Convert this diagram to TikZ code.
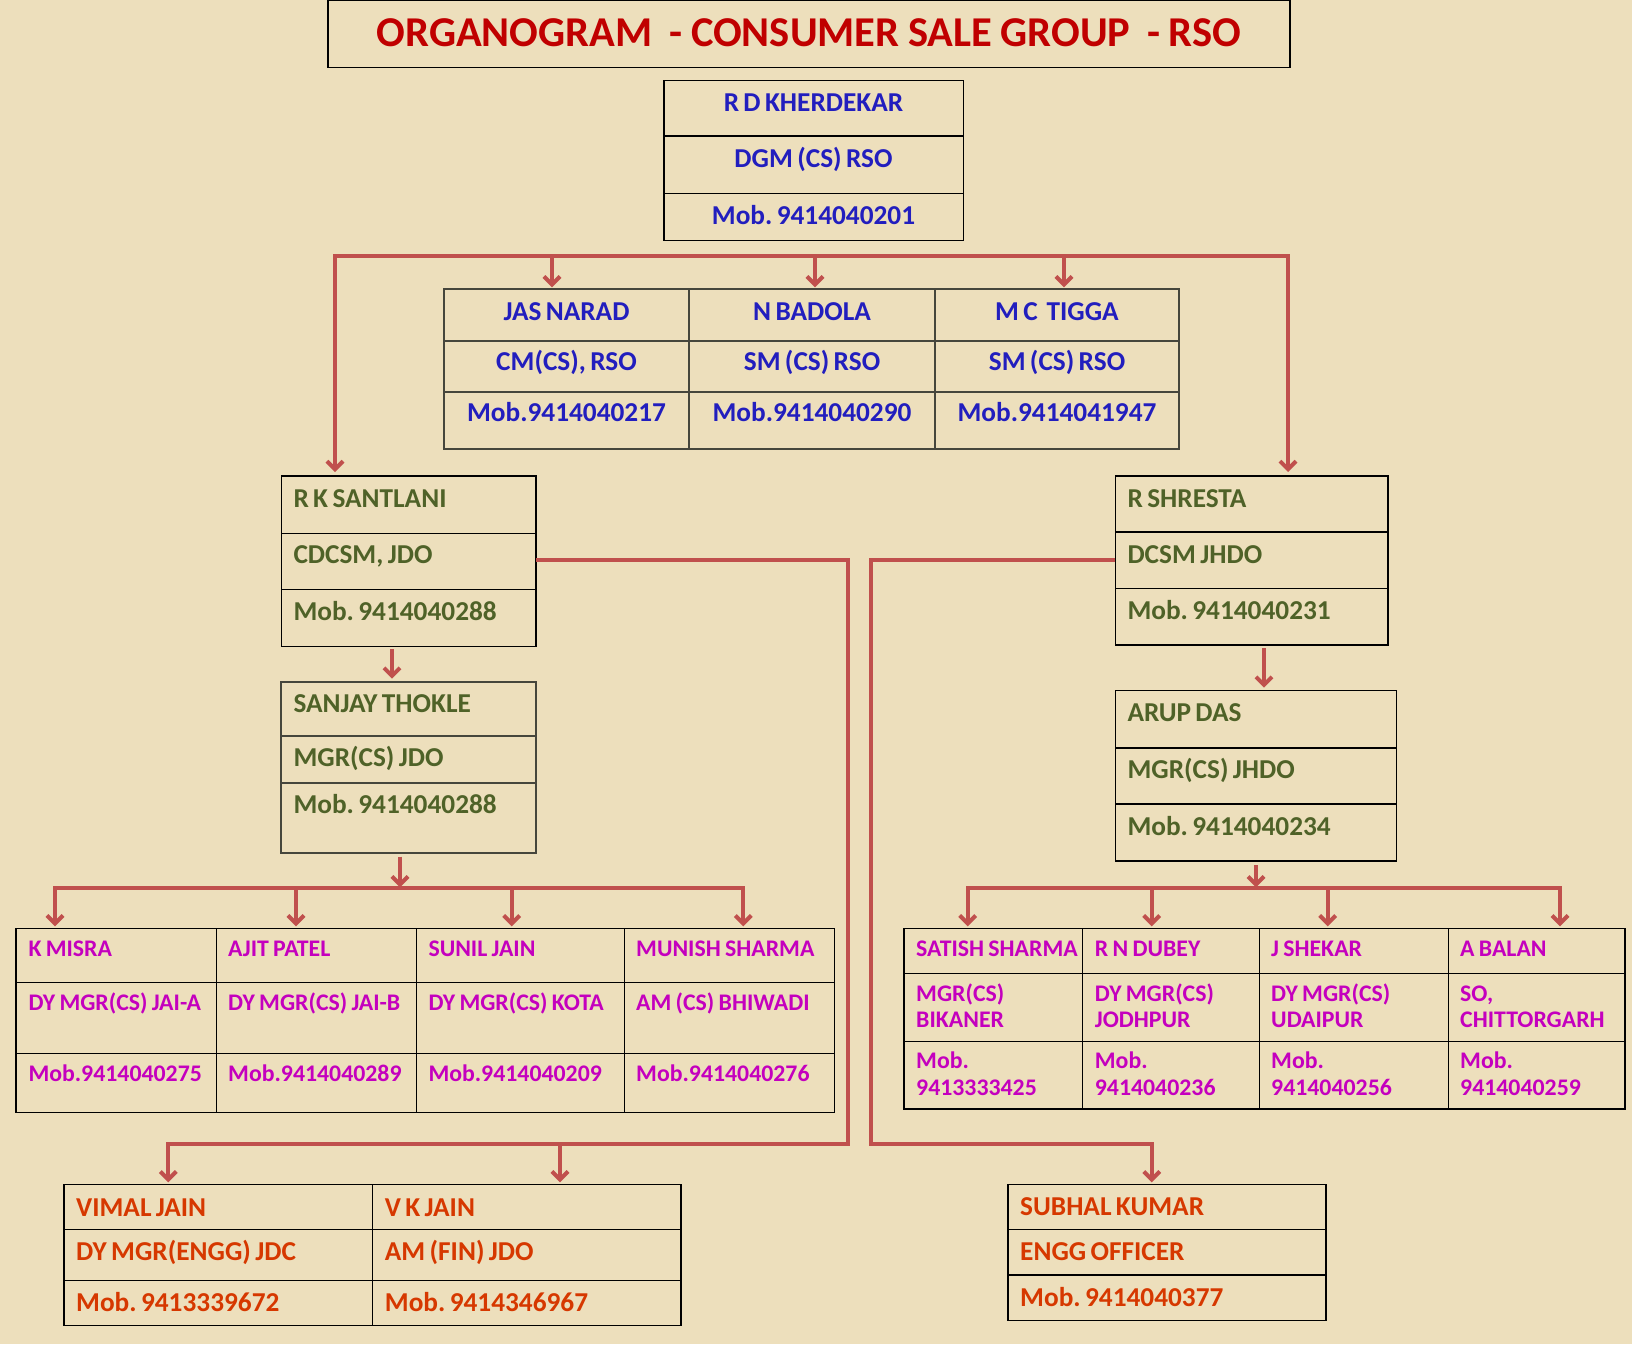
\documentclass[tikz,border=0pt]{standalone}
\usepackage{fontspec}
\setmainfont{Carlito}
\usetikzlibrary{arrows.meta,fit}
\definecolor{bg}{RGB}{237,223,188}
\definecolor{ttl}{RGB}{192,0,0}
\definecolor{connc}{RGB}{192,80,77}
\definecolor{bluet}{RGB}{34,30,190}
\definecolor{greent}{RGB}{79,98,40}
\definecolor{magt}{RGB}{196,0,190}
\definecolor{orgt}{RGB}{214,56,0}
\definecolor{gframe}{RGB}{70,70,60}
\newcommand\cellt[5]{\node[#4] (#1) at (#2,#3) {#5};}
\newcommand\tightsp[1]{\spaceskip=#1\relax\xspaceskip=#1\relax}
\frenchspacing
\begin{document}
\begin{tikzpicture}[x=1pt,y=-1pt,
  frame/.style={draw=black, line width=1.3pt, inner sep=0pt, outer sep=0pt},
  gfr/.style={draw=gframe, line width=1.8pt, inner sep=0pt, outer sep=0pt},
  rowline/.style={draw=black, line width=1.3pt},
  growline/.style={draw=gframe, line width=1.8pt},
  conn/.style={draw=connc, line width=4pt, line join=miter, >={Straight Barb[length=8pt,width=16pt]}},
  txttitle/.style={font=\bfseries\fontsize{42.5}{48}\selectfont\tightsp{0.2em}, text=ttl, inner sep=0pt, anchor=base},
  txtblue/.style={font=\bfseries\fontsize{27.3}{32}\selectfont\tightsp{0.16em}, text=bluet, inner sep=0pt, anchor=base},
  txtgreen/.style={font=\bfseries\fontsize{27.3}{32}\selectfont\tightsp{0.16em}, text=greent, inner sep=0pt, anchor=base west},
  txtmag/.style={font=\bfseries\fontsize{23.8}{28}\selectfont\tightsp{0.18em}, text=magt, inner sep=0pt, anchor=base west},
  txtorg/.style={font=\bfseries\fontsize{27.3}{32}\selectfont\tightsp{0.16em}, text=orgt, inner sep=0pt, anchor=base west}
]
\fill[bg] (0,0) rectangle (1632,1344);
\useasboundingbox (0,0) rectangle (1632,1344);

% ---------- title ----------
\node[frame, fit={(328,0.7) (1290,67.3)}] (titlebox) {};
\cellt{title}{809}{46}{txttitle}{ORGANOGRAM\ \ - CONSUMER SALE GROUP\ \ - RSO}

% ---------- R D KHERDEKAR ----------
\node[frame, fit={(664,80.7) (963.3,240.7)}] (rd) {};
\draw[rowline] (664,136) -- (963.3,136);
\draw[rowline] (664,193.3) -- (963.3,193.3);
\cellt{rd1}{813.5}{111.7}{txtblue}{R D KHERDEKAR}
\cellt{rd2}{813.5}{167.7}{txtblue}{DGM (CS) RSO}
\cellt{rd3}{813.5}{224}{txtblue}{Mob. 9414040201}

% ---------- middle table ----------
\node[gfr, fit={(444,289.3) (1179,449)}] (mt) {};
\draw[growline] (444,340.7) -- (1179,340.7);
\draw[growline] (444,392) -- (1179,392);
\draw[growline] (689,289.3) -- (689,449);
\draw[growline] (935,289.3) -- (935,449);
\cellt{ma1}{566.5}{320}{txtblue}{JAS NARAD}
\cellt{ma2}{566.5}{370}{txtblue}{CM(CS), RSO}
\cellt{ma3}{566.5}{421.7}{txtblue}{Mob.9414040217}
\cellt{mb1}{812}{320}{txtblue}{N BADOLA}
\cellt{mb2}{812}{370}{txtblue}{SM (CS) RSO}
\cellt{mb3}{812}{421.7}{txtblue}{Mob.9414040290}
\cellt{mc1}{1057}{320}{txtblue}{M C\ \ TIGGA}
\cellt{mc2}{1057}{370}{txtblue}{SM (CS) RSO}
\cellt{mc3}{1057}{421.7}{txtblue}{Mob.9414041947}

% ---------- R K SANTLANI ----------
\node[frame, fit={(281.3,476) (536,646.7)}] (rk) {};
\draw[rowline] (281.3,533.3) -- (536,533.3);
\draw[rowline] (281.3,589.3) -- (536,589.3);
\cellt{rk1}{293.3}{507.7}{txtgreen}{R K SANTLANI}
\cellt{rk2}{293.3}{563.3}{txtgreen}{CDCSM, JDO}
\cellt{rk3}{293.3}{620.3}{txtgreen}{Mob. 9414040288}

% ---------- SANJAY THOKLE ----------
\node[gfr, fit={(281.3,681.7) (536,852.7)}] (sj) {};
\draw[growline] (281.3,736) -- (536,736);
\draw[growline] (281.3,783) -- (536,783);
\cellt{sj1}{293.3}{712.3}{txtgreen}{SANJAY THOKLE}
\cellt{sj2}{293.3}{766.7}{txtgreen}{MGR(CS) JDO}
\cellt{sj3}{293.3}{813.7}{txtgreen}{Mob. 9414040288}

% ---------- R SHRESTA ----------
\node[frame, fit={(1115.3,476) (1388,645)}] (rs) {};
\draw[rowline] (1115.3,532) -- (1388,532);
\draw[rowline] (1115.3,588.3) -- (1388,588.3);
\cellt{rs1}{1127.3}{507.7}{txtgreen}{R SHRESTA}
\cellt{rs2}{1127.3}{563.3}{txtgreen}{DCSM JHDO}
\cellt{rs3}{1127.3}{619.3}{txtgreen}{Mob. 9414040231}

% ---------- ARUP DAS ----------
\node[frame, fit={(1115.3,690.7) (1396.7,861)}] (ad) {};
\draw[rowline] (1115.3,748) -- (1396.7,748);
\draw[rowline] (1115.3,804) -- (1396.7,804);
\cellt{ad1}{1127.3}{721.7}{txtgreen}{ARUP DAS}
\cellt{ad2}{1127.3}{778.3}{txtgreen}{MGR(CS) JHDO}
\cellt{ad3}{1127.3}{835.7}{txtgreen}{Mob. 9414040234}

% ---------- left magenta table ----------
\node[frame, fit={(16,928.3) (834.3,1112.3)}] (lt) {};
\draw[rowline] (16,982.3) -- (834.3,982.3);
\draw[rowline] (16,1053.3) -- (834.3,1053.3);
\draw[rowline] (216.7,928.3) -- (216.7,1112.3);
\draw[rowline] (416.7,928.3) -- (416.7,1112.3);
\draw[rowline] (624.3,928.3) -- (624.3,1112.3);
\cellt{la1}{28.3}{956.7}{txtmag}{K MISRA}
\cellt{la2}{28.3}{1010}{txtmag}{DY MGR(CS) JAI-A}
\cellt{la3}{28.3}{1081.7}{txtmag}{Mob.9414040275}
\cellt{lb1}{228}{956.7}{txtmag}{AJIT PATEL}
\cellt{lb2}{228}{1010}{txtmag}{DY MGR(CS) JAI-B}
\cellt{lb3}{228}{1081.7}{txtmag}{Mob.9414040289}
\cellt{lc1}{428.3}{956.7}{txtmag}{SUNIL JAIN}
\cellt{lc2}{428.3}{1010}{txtmag}{DY MGR(CS) KOTA}
\cellt{lc3}{428.3}{1081.7}{txtmag}{Mob.9414040209}
\cellt{ld1}{636}{956.7}{txtmag}{MUNISH SHARMA}
\cellt{ld2}{636}{1010}{txtmag}{AM (CS) BHIWADI}
\cellt{ld3}{636}{1081.7}{txtmag}{Mob.9414040276}

% ---------- right magenta table ----------
\node[frame, fit={(904,928.3) (1625,1109)}] (rt) {};
\draw[rowline] (904,973.7) -- (1625,973.7);
\draw[rowline] (904,1041.7) -- (1625,1041.7);
\draw[rowline] (1082.7,928.3) -- (1082.7,1109);
\draw[rowline] (1259.3,928.3) -- (1259.3,1109);
\draw[rowline] (1448.7,928.3) -- (1448.7,1109);
\cellt{ra1}{916}{956}{txtmag}{SATISH SHARMA}
\cellt{ra2}{916}{1001.7}{txtmag}{MGR(CS)}
\cellt{ra3}{916}{1027.7}{txtmag}{BIKANER}
\cellt{ra4}{916}{1068.3}{txtmag}{Mob.}
\cellt{ra5}{916}{1095}{txtmag}{9413333425}
\cellt{rb1}{1094.7}{956}{txtmag}{R N DUBEY}
\cellt{rb2}{1094.7}{1001.7}{txtmag}{DY MGR(CS)}
\cellt{rb3}{1094.7}{1027.7}{txtmag}{JODHPUR}
\cellt{rb4}{1094.7}{1068.3}{txtmag}{Mob.}
\cellt{rb5}{1094.7}{1095}{txtmag}{9414040236}
\cellt{rc1}{1271}{956}{txtmag}{J SHEKAR}
\cellt{rc2}{1271}{1001.7}{txtmag}{DY MGR(CS)}
\cellt{rc3}{1271}{1027.7}{txtmag}{UDAIPUR}
\cellt{rc4}{1271}{1068.3}{txtmag}{Mob.}
\cellt{rc5}{1271}{1095}{txtmag}{9414040256}
\cellt{rd1x}{1460}{956}{txtmag}{A BALAN}
\cellt{rd2x}{1460}{1001.7}{txtmag}{SO,}
\cellt{rd3x}{1460}{1027.7}{txtmag}{CHITTORGARH}
\cellt{rd4x}{1460}{1068.3}{txtmag}{Mob.}
\cellt{rd5x}{1460}{1095}{txtmag}{9414040259}

% ---------- bottom-left orange table ----------
\node[frame, fit={(64,1184.3) (681,1325.7)}] (bt) {};
\draw[rowline] (64,1229.3) -- (681,1229.3);
\draw[rowline] (64,1280.7) -- (681,1280.7);
\draw[rowline] (372.7,1184.3) -- (372.7,1325.7);
\cellt{ba1}{76}{1216}{txtorg}{VIMAL JAIN}
\cellt{ba2}{76}{1260}{txtorg}{DY MGR(ENGG) JDC}
\cellt{ba3}{76}{1311.7}{txtorg}{Mob. 9413339672}
\cellt{bb1}{384.7}{1216}{txtorg}{V K JAIN}
\cellt{bb2}{384.7}{1260}{txtorg}{AM (FIN) JDO}
\cellt{bb3}{384.7}{1311.7}{txtorg}{Mob. 9414346967}

% ---------- SUBHAL KUMAR ----------
\node[frame, fit={(1008,1184.3) (1326,1320.3)}] (sk) {};
\draw[rowline] (1008,1229.3) -- (1326,1229.3);
\draw[rowline] (1008,1275) -- (1326,1275);
\cellt{sk1}{1020}{1215}{txtorg}{SUBHAL KUMAR}
\cellt{sk2}{1020}{1260}{txtorg}{ENGG OFFICER}
\cellt{sk3}{1020}{1306}{txtorg}{Mob. 9414040377}

% ---------- connectors ----------
\coordinate (busL) at (335,255.5);
\coordinate (busR) at (1288,255.5);
\draw[conn,<->,shorten <=4pt,shorten >=4pt] (rk.north -| busL) -- (busL) -- (busR) -- (rs.north -| busR);
\coordinate (m1) at (552,255.5);
\coordinate (m2) at (815,255.5);
\coordinate (m3) at (1064,255.5);
\draw[conn,->,shorten >=2pt] (m1) -- (m1 |- mt.north);
\draw[conn,->,shorten >=2pt] (m2) -- (m2 |- mt.north);
\draw[conn,->,shorten >=2pt] (m3) -- (m3 |- mt.north);

\coordinate (k1) at (392,649);
\draw[conn,->,shorten >=3pt] (k1) -- (k1 |- sj.north);
\coordinate (s1) at (1264,648);
\draw[conn,->,shorten >=3pt] (s1) -- (s1 |- ad.north);

% left bus
\coordinate (lbL) at (55,888.3);
\coordinate (lbR) at (743.3,888.3);
\coordinate (lbS) at (400,856.5);
\draw[conn,->,shorten >=1pt] (lbS) -- (lbS |- lbL);
\draw[conn,<->,shorten <=2pt,shorten >=2pt] (lbL |- lt.north) -- (lbL) -- (lbR) -- (lbR |- lt.north);
\coordinate (lb2) at (296,888.3);
\coordinate (lb3) at (511.7,888.3);
\draw[conn,->,shorten >=2pt] (lb2) -- (lb2 |- lt.north);
\draw[conn,->,shorten >=2pt] (lb3) -- (lb3 |- lt.north);

% right bus
\coordinate (rbL) at (967.7,888.3);
\coordinate (rbR) at (1560,888.3);
\coordinate (rbS) at (1256,865);
\draw[conn,->,shorten >=1pt] (rbS) -- (rbS |- rbL);
\draw[conn,<->,shorten <=2pt,shorten >=2pt] (rbL |- rt.north) -- (rbL) -- (rbR) -- (rbR |- rt.north);
\coordinate (rb2) at (1151.7,888.3);
\coordinate (rb3) at (1327.7,888.3);
\draw[conn,->,shorten >=2pt] (rb2) -- (rb2 |- rt.north);
\draw[conn,->,shorten >=2pt] (rb3) -- (rb3 |- rt.north);

% long left connector
\coordinate (lvx) at (847.5,560);
\coordinate (lbot) at (847.5,1144);
\coordinate (bl1) at (168.3,1144);
\coordinate (bl2) at (560,1144);
\draw[conn,->,shorten >=2pt] (rk.east |- lvx) -- (lvx) -- (lbot) -- (bl1) -- (bl1 |- bt.north);
\draw[conn,->,shorten >=2pt] (bl2) -- (bl2 |- bt.north);

% long right connector
\coordinate (rvx) at (871.4,559.5);
\coordinate (rbot) at (871.4,1144);
\coordinate (sk0) at (1151.8,1144);
\draw[conn,->,shorten >=2pt] (rs.west |- rvx) -- (rvx) -- (rbot) -- (sk0) -- (sk0 |- sk.north);
\end{tikzpicture}
\end{document}
